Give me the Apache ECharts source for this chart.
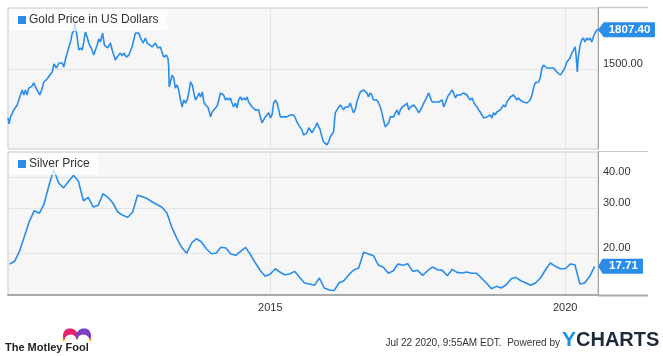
<!DOCTYPE html>
<html><head><meta charset="utf-8">
<script src="https://cdn.jsdelivr.net/npm/echarts@6/dist/echarts.min.js"></script>
<style>html,body{margin:0;padding:0;background:#fff}#c{width:663px;height:356px}</style>
</head><body><div id="c"></div>
<script>
const goldDates = [
'2010-07-22','2010-07-29','2010-08-07','2010-08-27','2010-09-17','2010-10-07','2010-10-18','2010-10-28','2010-11-07','2010-11-17','2010-11-27','2010-12-18','2010-12-28',
'2011-01-08','2011-01-19','2011-02-04','2011-02-19','2011-03-01','2011-03-21','2011-04-07','2011-04-22','2011-05-02','2011-05-18','2011-06-02','2011-06-23','2011-07-02','2011-07-15','2011-07-23','2011-08-03','2011-08-13','2011-08-24','2011-09-03','2011-09-07','2011-09-13','2011-09-23','2011-10-03','2011-10-14','2011-10-24','2011-11-03','2011-11-13','2011-11-24','2011-12-04','2011-12-14','2011-12-25',
'2012-01-04','2012-01-25','2012-02-04','2012-02-14','2012-02-28','2012-03-10','2012-03-22','2012-03-30','2012-04-16','2012-04-27','2012-05-17','2012-05-28','2012-06-17','2012-06-28','2012-07-08','2012-07-24','2012-08-08','2012-08-28','2012-09-18','2012-10-09','2012-10-19','2012-11-05','2012-11-19','2012-11-30','2012-12-09','2012-12-30',
'2013-01-20','2013-02-03','2013-02-20','2013-03-03','2013-03-12','2013-03-29','2013-04-08','2013-04-12','2013-04-15','2013-05-03','2013-05-13','2013-05-23','2013-06-03','2013-06-13','2013-06-24','2013-07-04','2013-07-14','2013-07-25','2013-08-05','2013-08-15','2013-08-25','2013-09-05','2013-09-15','2013-09-25','2013-10-06','2013-10-16','2013-10-26','2013-11-06','2013-11-16','2013-11-26','2013-12-10','2013-12-16','2013-12-27',
'2014-01-06','2014-01-16','2014-01-26','2014-02-06','2014-02-16','2014-02-26','2014-03-08','2014-03-18','2014-03-29','2014-04-08','2014-04-18','2014-04-29','2014-05-09','2014-05-19','2014-05-30','2014-06-09','2014-06-19','2014-06-30','2014-07-10','2014-07-20','2014-07-31','2014-08-10','2014-08-20','2014-08-31','2014-09-10','2014-09-20','2014-09-30','2014-10-11','2014-10-21','2014-10-31','2014-11-11','2014-11-21','2014-12-01','2014-12-12','2014-12-22',
'2015-01-02','2015-01-12','2015-01-22','2015-02-01','2015-02-12','2015-02-22','2015-03-04','2015-03-14','2015-03-24','2015-04-04','2015-04-14','2015-04-24','2015-05-05','2015-05-15','2015-05-25','2015-06-05','2015-06-15','2015-06-25','2015-07-06','2015-07-16','2015-07-26','2015-08-06','2015-08-16','2015-08-26','2015-09-06','2015-09-16','2015-09-26','2015-10-07','2015-10-17','2015-10-27','2015-11-06','2015-11-17','2015-11-27','2015-12-07','2015-12-17','2015-12-28',
'2016-01-07','2016-01-18','2016-01-28','2016-02-07','2016-02-18','2016-02-28','2016-03-09','2016-03-19','2016-03-29','2016-04-09','2016-04-19','2016-04-29','2016-05-10','2016-05-20','2016-05-30','2016-06-10','2016-06-20','2016-06-30','2016-07-11','2016-07-21','2016-07-31','2016-08-11','2016-08-21','2016-08-31','2016-09-11','2016-09-21','2016-10-01','2016-10-12','2016-10-22','2016-11-01','2016-11-12','2016-11-22','2016-12-02','2016-12-13','2016-12-23',
'2017-01-03','2017-01-13','2017-01-24','2017-02-03','2017-02-13','2017-02-24','2017-03-06','2017-03-16','2017-03-27','2017-04-06','2017-04-16','2017-04-27','2017-05-07','2017-05-17','2017-05-28','2017-06-07','2017-06-18','2017-06-28','2017-07-08','2017-07-18','2017-07-29','2017-08-08','2017-08-18','2017-08-29','2017-09-08','2017-09-18','2017-09-29','2017-10-09','2017-10-19','2017-10-30','2017-11-09','2017-11-19','2017-11-30','2017-12-10','2017-12-20','2017-12-31',
'2018-01-09','2018-01-20','2018-01-30','2018-02-09','2018-02-20','2018-03-02','2018-03-12','2018-03-23','2018-04-02','2018-04-12','2018-04-22','2018-05-03','2018-05-13','2018-05-23','2018-06-03','2018-06-13','2018-06-23','2018-07-04','2018-07-14','2018-07-24','2018-08-04','2018-08-14','2018-08-24','2018-09-04','2018-09-14','2018-09-24','2018-10-04','2018-10-14','2018-10-25','2018-11-04','2018-11-14','2018-11-25','2018-12-05','2018-12-15','2018-12-26',
'2019-01-05','2019-01-15','2019-01-26','2019-02-05','2019-02-15','2019-02-25','2019-03-08','2019-03-18','2019-03-28','2019-04-08','2019-04-18','2019-04-28','2019-05-09','2019-05-19','2019-05-29','2019-06-09','2019-06-19','2019-06-29','2019-07-10','2019-07-20','2019-07-30','2019-08-10','2019-08-20','2019-08-30','2019-09-10','2019-09-20','2019-09-30','2019-10-11','2019-10-21','2019-10-31','2019-11-10','2019-11-20','2019-12-01','2019-12-11','2019-12-21',
'2020-01-01','2020-01-11','2020-01-21','2020-01-31','2020-02-11','2020-02-21','2020-03-02','2020-03-08','2020-03-16','2020-03-22','2020-04-02','2020-04-12','2020-04-22','2020-05-03','2020-05-13','2020-05-23','2020-06-03','2020-06-13','2020-06-23','2020-07-04','2020-07-14','2020-07-22'
];
const goldValues = [
1193,1160,1199,1239,1268,1329,1361,1329,1361,1329,1373,1386,1407,
1380,1373,1329,1373,1413,1433,1460,1481,1538,1509,1545,1545,1516,1582,1589,1666,1705,1779,1796,1865,1830,1746,1642,1658,1642,1705,1788,1746,1697,1705,1642,
1604,1681,1730,1705,1779,1681,1681,1658,1697,1642,1567,1589,1619,1597,1619,1589,1604,1666,1779,1779,1738,1697,1738,1697,1697,1666,
1697,1658,1666,1619,1589,1604,1575,1516,1380,1460,1440,1373,1393,1361,1298,1256,1298,1280,1298,1348,1413,1393,1342,1298,1317,1342,1317,1348,1286,1268,1256,1239,1199,
1227,1239,1250,1262,1298,1342,1348,1329,1298,1311,1298,1311,1280,1256,1280,1250,1298,1317,1298,1311,1298,1317,1286,1280,1256,1250,1239,1250,1239,1199,1166,1182,1199,1210,1222,
1193,1210,1280,1298,1280,1239,1199,1210,1199,1210,1199,1210,1210,1199,1210,1193,1171,1155,1155,1128,1101,1091,1112,1139,1128,1112,1117,1144,1166,1171,1128,1091,1066,1061,1051,1066,
1091,1101,1117,1222,1239,1250,1268,1256,1239,1256,1250,1256,1280,1250,1222,1239,1286,1317,1348,1342,1361,1355,1342,1317,1342,1329,1298,1286,1298,1280,1256,1222,1182,1144,1139,
1166,1199,1210,1199,1222,1239,1210,1239,1256,1250,1268,1280,1239,1256,1250,1268,1256,1239,1222,1227,1256,1280,1298,1298,1342,1311,1286,1280,1286,1280,1286,1280,1298,1256,1280,1311,
1329,1342,1361,1342,1311,1329,1317,1329,1317,1342,1348,1329,1311,1298,1311,1286,1268,1256,1239,1227,1222,1193,1182,1199,1199,1210,1193,1222,1210,1227,1222,1239,1250,1268,1256,
1286,1298,1317,1317,1329,1317,1298,1311,1298,1286,1286,1280,1280,1286,1298,1329,1373,1407,1413,1413,1440,1509,1530,1516,1509,1516,1509,1495,1509,1495,1481,1474,1460,1474,1481,
1516,1552,1567,1582,1619,1642,1666,1604,1481,1589,1681,1721,1738,1705,1738,1721,1738,1705,1746,1779,1804,1807.4
];
const silverDates = [
'2010-08-01','2010-09-01','2010-10-01','2010-11-01','2010-12-01',
'2011-01-01','2011-02-01','2011-03-01','2011-04-01','2011-05-01','2011-06-01','2011-07-01','2011-08-01','2011-09-01','2011-10-01','2011-11-01','2011-12-01',
'2012-01-01','2012-02-01','2012-03-01','2012-04-01','2012-05-01','2012-06-01','2012-07-01','2012-08-01','2012-09-01','2012-10-01','2012-11-01','2012-12-01',
'2013-01-01','2013-02-01','2013-03-01','2013-04-01','2013-05-01','2013-06-01','2013-07-01','2013-08-01','2013-09-01','2013-10-01','2013-11-01','2013-12-01',
'2014-01-01','2014-02-01','2014-03-01','2014-04-01','2014-05-01','2014-06-01','2014-07-01','2014-08-01','2014-09-01','2014-10-01','2014-11-01','2014-12-01',
'2015-01-01','2015-02-01','2015-03-01','2015-04-01','2015-05-01','2015-06-01','2015-07-01','2015-08-01','2015-09-01','2015-10-01','2015-11-01','2015-12-01',
'2016-01-01','2016-02-01','2016-03-01','2016-04-01','2016-05-01','2016-06-01','2016-07-01','2016-08-01','2016-09-01','2016-10-01','2016-11-01','2016-12-01',
'2017-01-01','2017-02-01','2017-03-01','2017-04-01','2017-05-01','2017-06-01','2017-07-01','2017-08-01','2017-09-01','2017-10-01','2017-11-01','2017-12-01',
'2018-01-01','2018-02-01','2018-03-01','2018-04-01','2018-05-01','2018-06-01','2018-07-01','2018-08-01','2018-09-01','2018-10-01','2018-11-01','2018-12-01',
'2019-01-01','2019-02-01','2019-03-01','2019-04-01','2019-05-01','2019-06-01','2019-07-01','2019-08-01','2019-09-01','2019-10-01','2019-11-01','2019-12-01',
'2020-01-01','2020-02-01','2020-03-01','2020-04-01','2020-05-01','2020-06-01','2020-07-01'
];
const silverValues = [
18.08,18.54,20.31,23.30,26.73,
29.46,28.77,31.12,37.0,42.88,37.96,36.26,38.56,40.73,38.56,32.28,33.30,
30.47,30.95,34.42,33.30,31.61,29.11,28.24,27.73,29.11,33.92,33.49,32.88,
31.90,31.12,30.39,28.85,25.31,22.94,21.07,19.95,21.92,22.80,22.12,20.80,
19.87,20.00,21.07,20.94,19.82,19.58,20.31,21.07,19.69,18.25,17.01,16.16,
16.50,17.32,16.81,16.40,16.50,16.91,16.01,15.20,15.06,14.88,15.91,14.52,
14.25,14.20,15.20,15.52,16.40,17.12,17.43,20.13,19.82,19.51,17.87,17.55,
16.61,17.01,18.08,17.87,18.13,16.91,17.07,16.31,17.01,17.59,17.16,17.07,
16.25,17.23,16.76,16.65,16.81,16.61,16.61,15.91,15.16,14.42,14.74,14.52,
14.96,15.81,16.01,15.52,15.24,14.88,15.20,15.91,17.16,18.25,17.71,17.32,
17.32,18.08,17.97,15.06,15.20,16.16,17.71
];
const xStart = '2010-07-22';
const xEnd = '2020-07-22';
const xTickDates = ['2015-01-01', '2020-01-01'];
const goldTicks = [1500];
const silverTicks = [20, 30, 40];
const goldRange = [1031, 2001];
const silverRange = [13.62, 50.42];
const goldName = 'Gold Price in US Dollars';
const silverName = 'Silver Price';

const FONT = '"Liberation Sans", Arial, sans-serif';
const BLUE = '#2a8de8';
function ts(s) { const p = s.split('-').map(Number); return +new Date(p[0], p[1] - 1, p[2]); }
const xTickVals = xTickDates.map(ts);
const goldLast = goldValues[goldValues.length - 1];
const silverLast = silverValues[silverValues.length - 1];

function xAxisCfg(grid, showLabel) {
  return {
    gridIndex: grid, type: 'value', min: ts(xStart), max: ts(xEnd),
    axisLine: showLabel ? { show: true, onZero: false, lineStyle: { color: '#a9a9a9', width: 2 } } : { show: false },
    axisTick: { show: false, customValues: xTickVals },
    axisLabel: { show: showLabel, customValues: xTickVals, formatter: v => String(new Date(v).getFullYear()),
      color: '#333', fontSize: 11, margin: 7, fontFamily: FONT },
    splitLine: { show: true, lineStyle: { color: '#e3e3e3', width: 1 } }
  };
}
function yAxisCfg(grid, range, ticks) {
  return {
    gridIndex: grid, type: 'log', logBase: 10, position: 'right', min: range[0], max: range[1],
    axisLine: { show: true, lineStyle: { color: '#a0a0a0', width: 1 } },
    axisTick: { show: false, customValues: ticks },
    axisLabel: { customValues: ticks, formatter: v => Number(v).toFixed(2), verticalAlign: 'bottom',
      margin: 5, color: '#333', fontSize: 11, fontFamily: FONT },
    splitLine: { show: true, lineStyle: { color: '#e3e3e3', width: 1 } }
  };
}
function tag(val, w, coordX) {
  return {
    silent: true, animation: false,
    symbol: 'path://M0,8 L6,0 L60,0 L60,16 L6,16 Z',
    symbolSize: [w, 15], symbolOffset: [w / 2, 0], symbolKeepAspect: false,
    itemStyle: { color: BLUE },
    label: { show: true, position: 'inside', offset: [3, 0], color: '#fff', fontWeight: 'bold', fontSize: 11.5,
      fontFamily: FONT, formatter: () => val.toFixed(2) },
    data: [{ coord: [coordX, val] }]
  };
}
function legendCfg(name, top) {
  return {
    data: [name], left: 9, top: top, icon: 'rect', itemWidth: 8, itemHeight: 8, itemGap: 4,
    backgroundColor: 'rgba(255,255,255,0.75)', padding: [5, 9, 5, 9], selectedMode: false,
    textStyle: { color: '#333', fontSize: 12, fontFamily: FONT, padding: [0, 0, 0, -2] }
  };
}

const chart = echarts.init(document.getElementById('c'), null, { renderer: 'canvas' });
chart.setOption({
  animation: false,
  textStyle: { fontFamily: FONT },
  grid: [
    { left: 8, right: 65, top: 8, height: 141, show: true, backgroundColor: '#f6f6f6', borderColor: '#c9c9c9', borderWidth: 1 },
    { left: 8, right: 65, top: 152, height: 143, show: true, backgroundColor: '#f6f6f6', borderColor: '#c9c9c9', borderWidth: 1 }
  ],
  legend: [legendCfg(goldName, 9), legendCfg(silverName, 153)],
  xAxis: [xAxisCfg(0, false), xAxisCfg(1, true)],
  yAxis: [yAxisCfg(0, goldRange, goldTicks), yAxisCfg(1, silverRange, silverTicks)],
  series: [
    { name: goldName, type: 'line', xAxisIndex: 0, yAxisIndex: 0, showSymbol: false, color: BLUE,
      lineStyle: { width: 1.6, color: BLUE }, data: goldDates.map((d, i) => [ts(d), goldValues[i]]),
      markPoint: tag(goldLast, 57, ts(xEnd)) },
    { name: silverName, type: 'line', xAxisIndex: 1, yAxisIndex: 1, showSymbol: false, color: BLUE,
      lineStyle: { width: 1.6, color: BLUE }, data: silverDates.map((d, i) => [ts(d), silverValues[i]]),
      markPoint: tag(silverLast, 45, ts(xEnd)) }
  ],
  graphic: [
    { type: 'line', shape: { x1: 598, y1: 7.5, x2: 648, y2: 7.5 }, style: { stroke: '#c9c9c9', lineWidth: 1.5 }, silent: true },
    { type: 'line', shape: { x1: 598, y1: 151.5, x2: 648, y2: 151.5 }, style: { stroke: '#c9c9c9', lineWidth: 1 }, silent: true },
    { type: 'line', shape: { x1: 598, y1: 295.5, x2: 648, y2: 295.5 }, style: { stroke: '#a9a9a9', lineWidth: 2 }, silent: true },
    { type: 'text', x: 5, y: 342, style: { text: 'The Motley Fool', fill: '#222', font: 'bold 11px ' + FONT } },
    { type: 'polygon', shape: { points: [[63,340],[63,334],[65,330],[68,328.5],[72,328.5],[75,330],[77.5,333],[78,337],[77,340],[75,336],[72,334.5],[68,335],[65.5,337],[64.5,340]] }, style: { fill: '#e8216c' }, silent: true },
    { type: 'polygon', shape: { points: [[91,340],[91,334],[89,330],[86,328.5],[82,328.5],[79,330],[76.5,333],[76,337],[77,340],[79,336],[82,334.5],[86,335],[88.5,337],[89.5,340]] }, style: { fill: '#7b3fc0' }, silent: true },
    { type: 'circle', shape: { cx: 63.5, cy: 340, r: 1.4 }, style: { fill: '#f2c230' }, silent: true },
    { type: 'circle', shape: { cx: 90.5, cy: 340, r: 1.4 }, style: { fill: '#f2c230' }, silent: true },
    { type: 'text', x: 560, y: 338, style: { text: 'Jul 22 2020, 9:55AM EDT.  Powered by', fill: '#333', font: '10px ' + FONT, align: 'right' } },
    { type: 'text', x: 562, y: 330, style: { text: '{y|Y}{c|CHARTS}', rich: {
        y: { fill: '#1a8fe6', fontSize: 21, fontWeight: 'bold', fontFamily: FONT },
        c: { fill: '#1d2a3c', fontSize: 20, fontWeight: 'bold', fontFamily: FONT } } } }
  ]
});
</script>
</body></html>
